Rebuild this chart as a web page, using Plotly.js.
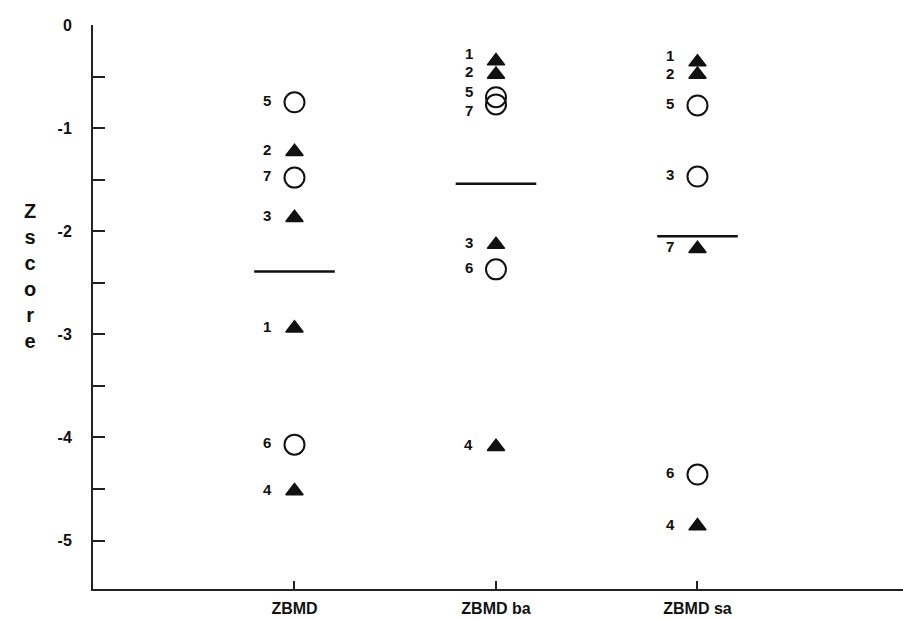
<!DOCTYPE html>
<html>
<head>
<meta charset="utf-8">
<script src="https://cdn.plot.ly/plotly-3.0.1.min.js"></script>
<style>html,body{margin:0;padding:0;background:#fff;}#chart{width:903px;height:620px;}</style>
</head>
<body>
<div id="chart"></div>
<script>
// ---- data ----
const categories = ["ZBMD", "ZBMD ba", "ZBMD sa"];
const subjectIds = ["1", "2", "3", "4", "5", "6", "7"];
// Z scores per subject for each measure
const zbmd   = [-2.94, -1.23, -1.87, -4.52, -0.75, -4.07, -1.48];
const zbmdBa = [-0.35, -0.48, -2.13, -4.09, -0.70, -2.37, -0.77];
const zbmdSa = [-0.36, -0.48, -1.47, -4.86, -0.78, -4.36, -2.17];
// marker type per subject in each measure: "t" = filled triangle, "c" = open circle
const typeZbmd   = ["t", "t", "t", "t", "c", "c", "c"];
const typeZbmdBa = ["t", "t", "t", "t", "c", "c", "c"];
const typeZbmdSa = ["t", "t", "c", "t", "c", "c", "t"];
// group means (horizontal bars)
const means = [-2.39, -1.54, -2.05];
// y-axis ticks
const yTickVals = [0, -0.5, -1, -1.5, -2, -2.5, -3, -3.5, -4, -4.5, -5];
const yTickText = ["0", "", "-1", "", "-2", "", "-3", "", "-4", "", "-5"];
const yTitleLetters = ["Z", "s", "c", "o", "r", "e"];

// ---- style (not data) ----
const FONT = "Liberation Sans, Arial, Helvetica, sans-serif";
const INK = "#111";
const MEAN_HALF = 0.2;
// label vertical nudges (px) where labels would collide
const labelShift = {"1,4": 4, "1,6": -8, "1,0": 6, "1,1": 1, "2,0": 5, "2,1": -1};

const series = [zbmd, zbmdBa, zbmdSa];
const types = [typeZbmd, typeZbmdBa, typeZbmdSa];

const traces = [];
const annotations = [];
series.forEach((vals, ci) => {
  const xpos = ci + 1;
  const tri = {x: [], y: []}, cir = {x: [], y: []};
  vals.forEach((v, si) => {
    const t = types[ci][si];
    (t === "t" ? tri : cir).x.push(xpos);
    (t === "t" ? tri : cir).y.push(v);
    const sh = labelShift[ci + "," + si] || 0;
    annotations.push({
      x: xpos, y: v, xref: "x", yref: "y", text: subjectIds[si],
      showarrow: false, xshift: -27, yshift: 2 + sh,
      font: {family: FONT, size: 15, color: INK, weight: "bold"}
    });
  });
  traces.push({
    type: "scatter", mode: "markers", x: tri.x, y: tri.y, hoverinfo: "y",
    marker: {symbol: "triangle-up", size: 15, color: INK, line: {color: INK, width: 1.5}}
  });
  traces.push({
    type: "scatter", mode: "markers", x: cir.x, y: cir.y, hoverinfo: "y",
    marker: {symbol: "circle-open", size: 20, color: INK, line: {color: INK, width: 2}}
  });
  traces.push({
    type: "scatter", mode: "lines", x: [xpos - MEAN_HALF, xpos + MEAN_HALF],
    y: [means[ci], means[ci]], hoverinfo: "y",
    line: {color: INK, width: 2.5}
  });
});

annotations.push({
  xref: "paper", yref: "paper", x: -0.088, y: 0.555,
  text: yTitleLetters.join("<br>"), showarrow: false,
  font: {family: FONT, size: 20, color: INK, weight: "bold"}, align: "center"
});

const layout = {
  width: 903, height: 620,
  margin: {l: 93, r: 0, t: 25, b: 31, pad: 0},
  paper_bgcolor: "#fff", plot_bgcolor: "#fff",
  showlegend: false,
  font: {family: FONT, color: INK},
  xaxis: {
    range: [0, 4.02], showgrid: false, zeroline: false,
    showline: true, linecolor: "#222", linewidth: 2,
    tickmode: "array", tickvals: [1, 2, 3], ticktext: categories,
    ticks: "inside", ticklen: 8, tickwidth: 2, tickcolor: "#222",
    ticklabelstandoff: 4,
    tickfont: {family: FONT, size: 16, color: INK, weight: "bold"}
  },
  yaxis: {
    range: [-5.47, 0], showgrid: false, zeroline: false,
    showline: true, linecolor: "#222", linewidth: 2,
    tickmode: "array", tickvals: yTickVals, ticktext: yTickText,
    ticks: "inside", ticklen: 12, tickwidth: 2, tickcolor: "#222",
    ticklabelstandoff: 16,
    tickfont: {family: FONT, size: 16, color: INK, weight: "bold"}
  },
  annotations: annotations
};

Plotly.newPlot("chart", traces, layout, {staticPlot: true, displayModeBar: false});
</script>
</body>
</html>
